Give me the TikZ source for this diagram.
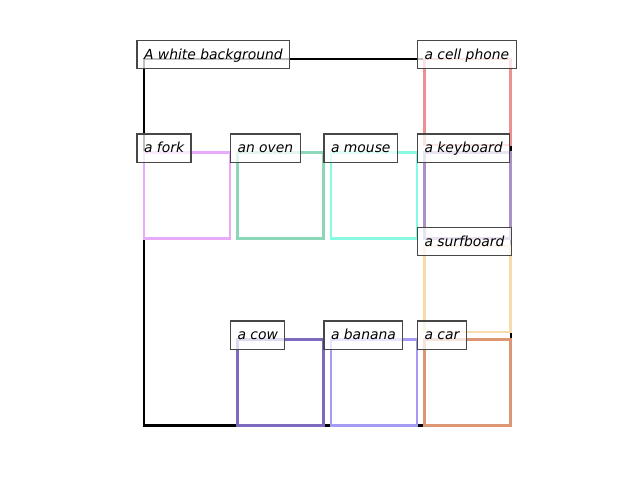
\documentclass[tikz,border=0pt]{standalone}
\usepackage{fontspec}
\setmainfont{DejaVu Sans}
\definecolor{phonecol}{RGB}{235,145,145}
\definecolor{forkcol}{RGB}{232,170,250}
\definecolor{ovencol}{RGB}{140,215,185}
\definecolor{mousecol}{RGB}{135,250,225}
\definecolor{keybcol}{RGB}{170,145,200}
\definecolor{surfcol}{RGB}{245,220,170}
\definecolor{cowcol}{RGB}{125,105,190}
\definecolor{banancol}{RGB}{165,155,245}
\definecolor{carcol}{RGB}{220,150,115}
\begin{document}
\begin{tikzpicture}[x=0.72pt,y=-0.72pt,
    box/.style={draw,line width=1.8pt,inner sep=0pt,outer sep=0pt,anchor=north west,
      minimum width=61.9pt,minimum height=61.9pt},
    lbl/.style={draw=black!72,line width=0.85pt,fill=white,fill opacity=0.75,text opacity=1,
      inner sep=5pt,outer sep=0pt,anchor=base west,xshift=-5pt,
      text height=8.3pt,text depth=2pt,font=\itshape}]
  \useasboundingbox (0,0) rectangle (640,480);
  \node[box,draw=black,minimum width=264.2pt,minimum height=264pt] (bg) at (144,59) {};
  \node[box,draw=phonecol] (phone) at (424.5,59) {};
  \node[box,draw=forkcol] (fork) at (144,152.5) {};
  \node[box,draw=ovencol] (oven) at (237.5,152.5) {};
  \node[box,draw=mousecol] (mouse) at (331,152.5) {};
  \node[box,draw=keybcol] (keyb) at (424.5,152.5) {};
  \node[box,draw=surfcol] (surf) at (424.5,246) {};
  \node[box,draw=cowcol] (cow) at (237.5,339.5) {};
  \node[box,draw=banancol] (banana) at (331,339.5) {};
  \node[box,draw=carcol] (car) at (424.5,339.5) {};
  \node[lbl] (bglbl) at (bg.north west) {A white background};
  \node[lbl] (phonelbl) at (phone.north west) {a cell phone};
  \node[lbl] (forklbl) at (fork.north west) {a fork};
  \node[lbl] (ovenlbl) at (oven.north west) {an oven};
  \node[lbl] (mouselbl) at (mouse.north west) {a mouse};
  \node[lbl] (keyblbl) at (keyb.north west) {a keyboard};
  \node[lbl] (surflbl) at (surf.north west) {a surfboard};
  \node[lbl] (cowlbl) at (cow.north west) {a cow};
  \node[lbl] (bananalbl) at (banana.north west) {a banana};
  \node[lbl] (carlbl) at (car.north west) {a car};
\end{tikzpicture}
\end{document}
